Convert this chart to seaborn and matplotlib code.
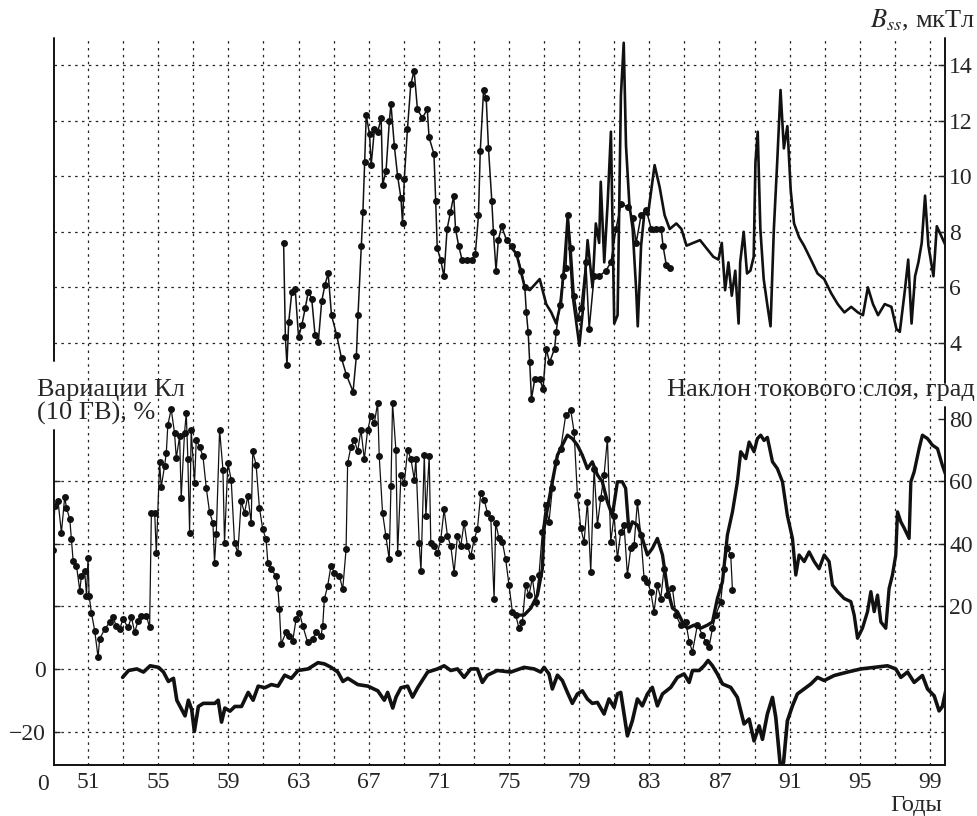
import matplotlib
matplotlib.use('Agg')
import matplotlib.pyplot as plt
import seaborn as sns
import pandas as pd

# Вариации КЛ (10 ГВ), %
kl_year = [52.97, 53.31, 53.78, 54.16, 54.54, 55.02, 55.30, 55.58, 55.87, 56.06, 56.25, 56.53,
           56.72, 56.91, 57.06, 57.29, 57.57, 57.86, 58.23, 58.42, 58.61, 58.80, 59.09, 59.37,
           59.75, 60.13, 60.41, 60.70, 61.08, 61.45, 61.83, 62.21, 62.59, 62.97, 63.54, 64.11,
           64.48, 64.86, 65.24, 65.53, 65.81, 66.38, 66.95, 67.52, 67.89, 68.08, 68.37, 68.56,
           68.84, 69.22, 69.50, 69.79, 70.36, 70.92, 71.30, 71.68, 72.06, 72.44, 72.82, 73.20,
           73.48, 73.77, 74.33, 75.10, 75.86, 76.43, 76.81, 77.00, 77.28, 77.47, 77.76, 78.04,
           78.33, 78.61, 78.90, 79.18, 79.47, 79.75, 80.04, 80.42, 80.70, 80.99, 81.18, 81.37,
           81.56, 81.75, 82.03, 82.32, 82.60, 82.89, 83.17, 83.46, 83.75, 84.22, 84.60, 84.98,
           85.27, 85.46, 85.84, 86.12, 86.35, 86.60, 86.88, 87.17, 87.64, 88.02, 88.40, 88.69,
           88.97, 89.26, 89.45, 89.73, 90.02, 90.21, 90.46, 90.65, 90.87, 91.16, 91.44, 91.83,
           92.21, 92.59, 92.97, 93.54, 94.30, 95.06, 95.82, 96.58, 97.05, 97.34, 97.72, 98.10,
           98.57, 98.86, 99.24, 99.52, 99.71, 99.90]
kl_val = [-2.7, -0.5, 0, -1, 1, 0.5, -1, -4, -3, -10, -12, -15,
          -10, -13, -20, -12, -11, -11, -11, -10, -17, -12.5, -13.5, -12,
          -12, -7.5, -10, -5.5, -6, -5, -5.5, -2, -3, -0.5, 0, 2,
          1.6, 0.5, -1, -4, -3, -5, -5.5, -7, -10, -7.5, -12.5, -9,
          -6, -5.5, -9, -6, -1, 0, 1, -0.5, 0, -2.7, 0, 0,
          -4.3, -2, -0.5, -1, 0.5, 0, -1, 0.5, -1.6, -6.4, -2, -3.7,
          -7.5, -11, -8, -7, -9.6, -11, -10.7, -14.4, -9.6, -12.3, -8, -7.5,
          -14.4, -21.4, -16.6, -9.6, -11.8, -8, -5.9, -11.8, -8, -5.9, -2.7, -1.6,
          -4.3, -0.5, -0.5, 1, 2.7, 1, -1.6, -4.8, -5.9, -9.1, -17.6, -16,
          -23, -18.2, -22.5, -14.4, -9.1, -15.5, -30.5, -30, -16.6, -11.8, -8, -6.4,
          -4.8, -2.7, -3.7, -2.1, -1, 0, 0.5, 1, 0, -2.7, -1, -4.3,
          -2.1, -6.4, -8.6, -13.4, -12, -7]

# Наклон токового слоя, град (точки)
tilt_dot_year = [49.01, 49.10, 49.29, 49.48, 49.67, 49.77, 49.96, 50.05, 50.15, 50.34, 50.53, 50.62,
                 50.81, 50.91, 51.00, 51.06, 51.19, 51.38, 51.57, 51.66, 51.95, 52.23, 52.42, 52.61,
                 52.80, 52.99, 53.28, 53.47, 53.66, 53.85, 54.04, 54.32, 54.51, 54.61, 54.80, 54.89,
                 55.08, 55.17, 55.36, 55.46, 55.55, 55.74, 55.93, 56.03, 56.22, 56.31, 56.50, 56.60,
                 56.69, 56.79, 56.88, 57.07, 57.17, 57.36, 57.55, 57.74, 57.93, 58.12, 58.21, 58.31,
                 58.50, 58.69, 58.78, 58.97, 59.16, 59.35, 59.54, 59.73, 59.92, 60.11, 60.30, 60.39,
                 60.58, 60.77, 60.96, 61.15, 61.25, 61.44, 61.72, 61.82, 61.91, 62.01, 62.29, 62.48,
                 62.67, 62.86, 63.05, 63.24, 63.52, 63.81, 64.00, 64.28, 64.38, 64.47, 64.66, 64.85,
                 65.04, 65.33, 65.52, 65.71, 65.80, 65.99, 66.18, 66.37, 66.56, 66.75, 66.94, 67.13,
                 67.32, 67.51, 67.60, 67.79, 67.98, 68.17, 68.27, 68.36, 68.55, 68.65, 68.84, 69.03,
                 69.22, 69.41, 69.60, 69.69, 69.88, 69.98, 70.17, 70.26, 70.45, 70.54, 70.73, 70.92,
                 71.11, 71.30, 71.49, 71.68, 71.87, 72.06, 72.25, 72.44, 72.63, 72.82, 73.01, 73.20,
                 73.39, 73.58, 73.77, 73.96, 74.15, 74.24, 74.43, 74.62, 74.81, 75.00, 75.19, 75.38,
                 75.57, 75.76, 75.95, 76.14, 76.33, 76.52, 76.71, 76.90, 77.09, 77.28, 77.47, 77.66,
                 77.95, 78.23, 78.52, 78.71, 78.90, 79.09, 79.28, 79.47, 79.66, 79.85, 80.04, 80.23,
                 80.42, 80.61, 80.80, 80.99, 81.18, 81.37, 81.56, 81.75, 81.94, 82.13, 82.32, 82.51,
                 82.70, 82.89, 83.08, 83.27, 83.46, 83.65, 83.84, 84.03, 84.32, 84.51, 84.79, 85.08,
                 85.27, 85.46, 85.74, 86.03, 86.22, 86.41, 86.60, 86.79, 87.07, 87.26, 87.45, 87.64,
                 87.74]
tilt_dot_val = [38, 52, 53.6, 43.5, 55, 51.5, 47.8, 41.4, 34.5, 33, 25, 29.7,
                31.3, 23.4, 35.6, 23.4, 18, 12.2, 3.7, 9.6, 12.7, 14.9, 16.5, 13.8,
                12.7, 15.9, 13.3, 16.5, 11.7, 15.4, 17, 17, 13.3, 49.9, 49.9, 37,
                66, 58, 64.8, 69, 78, 83, 75.4, 67.4, 74.3, 54.7, 75.4, 81.7,
                67, 43.5, 76.4, 59.4, 73.2, 71, 68, 57.8, 50, 46.7, 34, 43,
                76.4, 63.7, 40.3, 65.8, 60.5, 40.3, 37, 53.6, 49.9, 55.2, 46.7, 69.5,
                65.3, 51.5, 44.6, 41.4, 34, 31.8, 29.7, 26, 19, 8, 11.7, 10.6,
                9, 15.9, 18, 13.8, 8.5, 9.6, 11.7, 10.6, 13.8, 22.3, 26.5, 33,
                30.8, 29.7, 25.5, 38.2, 65.8, 71, 73.2, 69.5, 76.4, 67, 76.4, 80.7,
                78.5, 85, 68, 49.9, 42.5, 35, 58.4, 85, 70, 37, 62, 59.4,
                70, 67, 60.5, 67, 40.3, 31.3, 68.5, 48.8, 68, 40.3, 39.3, 37,
                41.4, 51, 42.5, 39.3, 30.8, 42.5, 39.3, 46.7, 39.3, 36, 41.4, 44.6,
                56.3, 54.1, 49.9, 48.3, 22.3, 46.7, 41.7, 40.6, 35, 26.8, 18.3, 17.2,
                13, 15, 26.8, 23.6, 29, 21.5, 30, 43.8, 52.3, 47, 57.7, 66,
                70.4, 81, 82.7, 75.7, 55.5, 45, 40.6, 53.4, 31, 64, 46, 54.5,
                62, 73.6, 40.6, 49, 35.3, 43.8, 46, 30, 38.5, 39.6, 53.4, 42.8,
                29, 27.9, 24.7, 18.3, 26.8, 22.5, 32, 23.6, 25.7, 17.2, 14, 15,
                8.7, 5.5, 14, 10.9, 8.7, 7.1, 13, 17.2, 21.5, 32, 38.5, 36.4,
                25.2]

# Наклон токового слоя, град (сплошная)
tilt_line_year = [75.48, 75.86, 76.24, 76.62, 76.90, 77.00, 77.19, 77.47, 77.76, 78.04, 78.33, 78.61,
                  78.90, 79.18, 79.47, 79.75, 80.04, 80.32, 80.61, 80.89, 81.18, 81.46, 81.65, 81.84,
                  82.03, 82.32, 82.60, 82.89, 83.17, 83.46, 83.75, 84.03, 84.32, 84.60, 84.89, 85.17,
                  85.55, 85.93, 86.31, 86.60, 86.88, 87.17, 87.45, 87.74, 88.02, 88.21, 88.50, 88.69,
                  88.97, 89.16, 89.35, 89.54, 89.73, 90.02, 90.30, 90.59, 90.87, 91.16, 91.35, 91.54,
                  91.83, 92.11, 92.40, 92.68, 92.97, 93.25, 93.44, 93.73, 94.11, 94.49, 94.68, 94.87,
                  95.15, 95.44, 95.63, 95.82, 96.01, 96.20, 96.48, 96.67, 96.86, 97.05, 97.15, 97.34,
                  97.53, 97.81, 97.91, 98.10, 98.38, 98.57, 98.86, 99.14, 99.43, 99.71, 99.90]
tilt_line_val = [17.2, 17.2, 19.4, 23.6, 32, 45, 51.3, 59.8, 68.3, 71.5, 74.7, 73.6,
                 71.5, 68.3, 64, 66.2, 62, 59.8, 53.4, 49, 59.8, 59.8, 57.7, 43.8,
                 47, 46, 41.7, 36.4, 38.5, 41.7, 36.4, 25.7, 19.4, 18.3, 15, 13,
                 14, 13, 14, 15, 22.5, 27.9, 42.8, 50.2, 59.8, 69.4, 67.2, 72.5,
                 69.4, 73.6, 74.7, 73, 74, 66.2, 64, 59.8, 49, 41.7, 30, 36.4,
                 34.3, 37.4, 34.3, 32, 36.4, 34.3, 26.8, 24.7, 22.5, 21.5, 17.2, 9.8,
                 13, 18.3, 24.7, 18.3, 23.6, 15, 13, 25.7, 30, 36.4, 50.2, 47,
                 45, 41.7, 59.8, 63, 70.4, 74.7, 73.6, 71.5, 70.4, 65, 62]

# B_ss, мкТл (точки)
bss_dot_year = [62.15, 62.25, 62.34, 62.44, 62.62, 62.81, 63.00, 63.19, 63.38, 63.56, 63.75, 63.94,
                64.13, 64.32, 64.51, 64.69, 64.88, 65.17, 65.45, 65.73, 66.11, 66.30, 66.39, 66.58,
                66.67, 66.77, 66.86, 67.05, 67.14, 67.33, 67.52, 67.71, 67.80, 67.99, 68.18, 68.27,
                68.46, 68.65, 68.84, 68.93, 69.03, 69.21, 69.40, 69.59, 69.78, 70.06, 70.34, 70.44,
                70.72, 70.82, 70.91, 71.10, 71.29, 71.47, 71.66, 71.85, 71.95, 72.13, 72.32, 72.60,
                72.89, 73.08, 73.26, 73.36, 73.55, 73.70, 73.83, 74.02, 74.11, 74.26, 74.39, 74.58,
                74.86, 75.15, 75.43, 75.71, 75.90, 75.99, 76.09, 76.18, 76.28, 76.47, 76.75, 76.94,
                77.12, 77.31, 77.60, 77.69, 77.88, 78.07, 78.25, 78.35, 78.54, 78.72, 78.91, 79.10,
                79.38, 79.57, 79.85, 80.14, 80.52, 80.81, 81.10, 81.38, 81.77, 82.05, 82.25, 82.53,
                82.82, 83.11, 83.39, 83.68, 83.78, 83.97, 84.16]
bss_dot_val = [7.6, 4.2, 3.2, 4.75, 5.85, 5.95, 4.2, 4.65, 5.25, 5.85, 5.6, 4.3,
               4.05, 5.5, 6.1, 6.5, 5.0, 4.3, 3.45, 2.85, 2.25, 3.55, 5.0, 7.5,
               8.7, 10.5, 12.2, 11.5, 10.4, 11.7, 11.6, 12.1, 9.7, 10.2, 12.0, 12.6,
               11.1, 10.0, 9.2, 8.3, 9.9, 11.7, 13.3, 13.8, 12.4, 12.1, 12.4, 11.4,
               10.8, 9.1, 7.4, 7.0, 6.4, 8.1, 8.7, 9.3, 8.1, 7.5, 7.0, 7.0,
               7.0, 7.2, 8.6, 10.9, 13.1, 12.8, 11.0, 9.1, 8.0, 6.6, 7.7, 8.2,
               7.7, 7.5, 7.2, 6.6, 6.0, 5.1, 4.4, 3.3, 2.0, 2.7, 2.7, 2.35,
               3.8, 3.3, 3.8, 4.4, 5.35, 6.4, 6.7, 8.6, 7.4, 5.7, 4.9, 5.25,
               6.9, 4.5, 6.4, 6.4, 6.6, 6.9, 8.1, 9.0, 8.9, 8.5, 7.6, 8.6,
               8.8, 8.1, 8.1, 8.1, 7.5, 6.8, 6.7]

# B_ss, мкТл (сплошная)
bss_line_year = [75.05, 75.43, 75.90, 76.18, 76.75, 77.12, 77.41, 77.69, 77.97, 78.16, 78.35, 78.63,
                 79.01, 79.20, 79.48, 79.76, 79.95, 80.14, 80.23, 80.43, 80.62, 80.81, 81.00, 81.19,
                 81.38, 81.54, 81.67, 81.86, 82.05, 82.25, 82.34, 82.53, 82.72, 82.92, 83.11, 83.30,
                 83.59, 83.87, 84.16, 84.54, 84.83, 85.12, 85.50, 85.89, 86.27, 86.65, 86.94, 87.13,
                 87.32, 87.51, 87.70, 87.90, 88.09, 88.18, 88.38, 88.57, 88.76, 88.95, 89.05, 89.18,
                 89.33, 89.52, 89.72, 89.91, 90.10, 90.29, 90.48, 90.67, 90.87, 91.06, 91.25, 91.54,
                 91.82, 92.21, 92.59, 92.97, 93.36, 93.74, 94.12, 94.51, 94.89, 95.18, 95.46, 95.75,
                 96.04, 96.42, 96.80, 97.09, 97.28, 97.57, 97.76, 97.95, 98.15, 98.34, 98.53, 98.72,
                 98.91, 99.20, 99.39, 99.68, 99.97]
bss_line_val = [7.5, 7.2, 6.0, 5.9, 6.3, 5.4, 5.1, 4.7, 5.5, 6.9, 8.6, 5.7,
                3.9, 5.1, 7.7, 6.0, 8.3, 7.6, 9.8, 6.9, 9.0, 11.6, 4.7, 5.0,
                12.9, 14.8, 11.1, 9.0, 8.1, 5.9, 4.6, 7.5, 8.7, 8.6, 9.5, 10.4,
                9.6, 8.6, 8.1, 8.3, 8.1, 7.5, 7.6, 7.7, 7.4, 7.1, 7.0, 7.6,
                5.9, 6.9, 5.7, 6.6, 4.7, 6.9, 8.0, 6.5, 6.6, 7.1, 10.5, 11.6,
                8.1, 6.3, 5.4, 4.6, 8.1, 10.5, 13.1, 11.0, 11.8, 9.5, 8.3, 7.8,
                7.5, 7.0, 6.5, 6.3, 5.8, 5.4, 5.1, 5.3, 5.1, 5.0, 6.0, 5.4,
                5.0, 5.4, 5.3, 4.5, 4.4, 5.9, 7.0, 4.7, 6.4, 6.9, 7.6, 9.3,
                7.5, 6.4, 8.2, 7.8, 7.4]

year_ticks = list(range(51, 100, 4))
year_minor = list(range(53, 98, 4))
bss_ticks = [4, 6, 8, 10, 12, 14]
tilt_ticks = [20, 40, 60, 80]
kl_ticks = [-20, 0]

ink = '#111111'
grid_kw = dict(color='#222222', lw=0.9, ls=(0, (2, 3.5)))

sns.set_style('white')
plt.rcParams['font.family'] = ['Liberation Serif', 'DejaVu Serif']
plt.rcParams['mathtext.fontset'] = 'stix'
plt.rcParams['font.size'] = 16

fig = plt.figure(figsize=(9.77, 8.16), dpi=100)
ax = fig.add_axes([0.0553, 0.0625, 0.9120, 0.8909])

kl = pd.DataFrame({'year': kl_year, 'val': kl_val})
tilt_dot = pd.DataFrame({'year': tilt_dot_year, 'val': tilt_dot_val})
tilt_line = pd.DataFrame({'year': tilt_line_year, 'val': tilt_line_val})
bss_dot = pd.DataFrame({'year': bss_dot_year, 'val': bss_dot_val})
bss_line = pd.DataFrame({'year': bss_line_year, 'val': bss_line_val})

sns.lineplot(data=kl, x='year', y='val', ax=ax, color=ink, lw=2.6, estimator=None)
sns.lineplot(data=tilt_line, x='year', y='val', ax=ax, color=ink, lw=2.4, estimator=None)
sns.lineplot(data=tilt_dot, x='year', y='val', ax=ax, color=ink, lw=0.9, estimator=None,
             marker='o', markersize=5, markeredgewidth=0)

ax.set_xlim(49.06, 99.86)
ax.set_ylim(-30.7, 201.6)
ax.set_xticks(year_ticks)
ax.set_xticks(year_minor, minor=True)
ax.set_yticks(kl_ticks + [20, 40, 60])
ax.set_yticklabels(['\u221220', '0', '', '', ''])
ax.grid(axis='x', which='both', **grid_kw)
ax.grid(axis='y', which='major', **grid_kw)
ax.tick_params(axis='x', which='major', direction='in', length=6, width=1.2, pad=5, labelsize=17)
ax.tick_params(axis='x', which='minor', length=0)
ax.tick_params(axis='y', direction='in', length=4, width=1, pad=6, labelsize=17)
ax.set_xlabel('')
ax.set_ylabel('')

sec = ax.secondary_yaxis('right')
sec.set_yticks(tilt_ticks)
sec.tick_params(direction='in', length=5, width=1, pad=3, labelsize=17)
for s in sec.spines.values():
    s.set_visible(False)

ax_b = ax.twinx()
sns.lineplot(data=bss_line, x='year', y='val', ax=ax_b, color=ink, lw=1.9, estimator=None)
sns.lineplot(data=bss_dot, x='year', y='val', ax=ax_b, color=ink, lw=1.1, estimator=None,
             marker='o', markersize=5, markeredgewidth=0)
ax_b.set_ylim(-11.18, 14.97)
ax_b.set_yticks(bss_ticks)
ax_b.grid(axis='y', **grid_kw)
ax_b.tick_params(axis='y', direction='in', length=5, width=1, pad=3, labelsize=17)
ax_b.set_ylabel('')

for a in (ax, ax_b):
    for s in a.spines.values():
        s.set_visible(False)
ax.spines['bottom'].set_visible(True)
ax.spines['bottom'].set_linewidth(1.4)
ax.spines['bottom'].set_color(ink)

# вертикальные оси с разрывами под подписи
for x0, y0, y1 in [(0, 0, 0.4608), (0, 0.5557, 1), (1, 0, 0.4924), (1, 0.5254, 1)]:
    ax.plot([x0, x0], [y0, y1], transform=ax.transAxes, color=ink, lw=1.4, clip_on=False)

fig.text(0.998, 0.975, r'$B_{ss}$, мкТл', ha='right', va='center', fontsize=19)
fig.text(0.038, 0.522, 'Вариации Кл', ha='left', va='center', fontsize=19)
fig.text(0.038, 0.493, '(10 ГВ), %', ha='left', va='center', fontsize=19)
fig.text(0.998, 0.522, 'Наклон токового слоя, град', ha='right', va='center', fontsize=19)
ax.text(-0.0123, -0.0265, '0', transform=ax.transAxes, ha='center', va='center', fontsize=17)
ax.text(0.9966, -0.0555, 'Годы', transform=ax.transAxes, ha='right', va='center', fontsize=17.5)

fig.savefig('out.png', dpi=100)
plt.close(fig)
